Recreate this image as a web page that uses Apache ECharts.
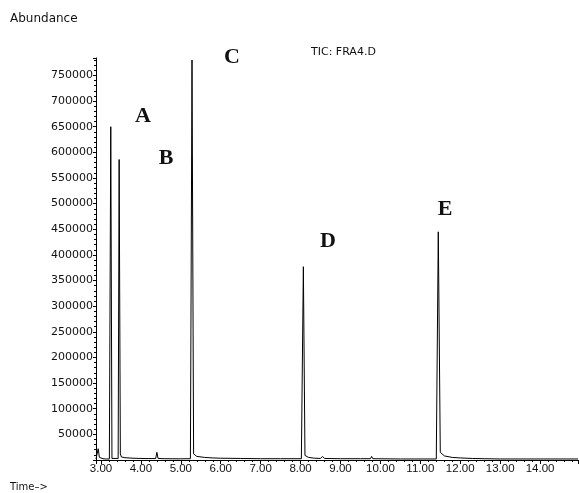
<!DOCTYPE html>
<html>
<head>
<meta charset="utf-8">
<script src="https://cdn.jsdelivr.net/npm/echarts@6/dist/echarts.min.js"></script>
<style>
html,body{margin:0;padding:0;background:#fff;}
#chart{width:579px;height:493px;}
</style>
</head>
<body>
<div id="chart"></div>
<script>
// Retention time (min)
const times = [
  2.875, 2.90, 2.93, 2.96, 3.00, 3.05, 3.12, 3.21, 3.245, 3.275, 3.30, 3.43, 3.455, 3.485,
  3.51, 3.60, 3.80, 4.00, 4.20, 4.37, 4.40, 4.43, 4.60, 5.00, 5.24, 5.28, 5.32, 5.40,
  5.60, 5.80, 6.00, 6.50, 7.00, 7.50, 8.02, 8.07, 8.11, 8.20, 8.35, 8.50, 8.55, 8.60,
  9.00, 9.50, 9.75, 9.78, 9.81, 10.50, 11.40, 11.45, 11.50, 11.60, 11.80, 12.00, 12.30,
  12.60, 13.00, 14.00, 14.95
];
// TIC abundance
const abundance = [
  2000, 3000, 22000, 5000, 3000, 2500, 2000, 2000, 650000, 3000, 3000, 3000, 586000, 12000,
  6000, 4500, 3500, 3000, 2800, 2800, 15000, 3000, 2500, 2300, 2500, 780000, 12000, 7000,
  5000, 4000, 3500, 3000, 2500, 2500, 2500, 377000, 9000, 5000, 3500, 3000, 7000, 3000,
  2500, 2500, 2500, 7000, 2500, 2000, 2000, 445000, 15000, 8000, 5000, 4000, 3000,
  2500, 2000, 2000, 2000
];
// Peak annotations
const peakLabels = ['A', 'B', 'C', 'D', 'E'];
const yTicks = [50000, 100000, 150000, 200000, 250000, 300000, 350000, 400000, 450000, 500000, 550000, 600000, 650000, 700000, 750000];
const xTicks = [3, 4, 5, 6, 7, 8, 9, 10, 11, 12, 13, 14];

const data = times.map((t, i) => [t, abundance[i]]);

const chart = echarts.init(document.getElementById('chart'), null, {renderer: 'canvas'});

const labelPos = [[143, 116], [166, 158], [232, 57], [328, 241], [445, 209]];

chart.setOption({
  animation: false,
  backgroundColor: '#fff',
  grid: {left: 96, right: 1, top: 58, bottom: 33, containLabel: false},
  xAxis: {
    type: 'value',
    min: 2.875,
    max: 14.95,
    splitNumber: 12,
    axisLine: {show: true, onZero: false, lineStyle: {color: '#000', width: 1}},
    axisTick: {show: true, length: 4, lineStyle: {color: '#000'}},
    minorTick: {show: true, splitNumber: 5, length: 2, lineStyle: {color: '#000'}},
    splitLine: {show: false},
    axisLabel: {
      color: '#111', fontFamily: 'Liberation Sans', fontSize: 11.5, margin: 3,
      showMinLabel: false, showMaxLabel: false,
      formatter: v => xTicks.includes(Math.round(v * 1000) / 1000) ? v.toFixed(2) : ''
    }
  },
  yAxis: {
    type: 'value',
    min: 0,
    max: 784000,
    interval: 50000,
    axisLine: {show: true, onZero: false, lineStyle: {color: '#000', width: 1}},
    axisTick: {show: true, length: 3, lineStyle: {color: '#000'}},
    minorTick: {show: true, splitNumber: 5, length: 2, lineStyle: {color: '#000'}},
    splitLine: {show: false},
    axisLabel: {
      color: '#111', fontFamily: 'DejaVu Sans', fontSize: 11, margin: 3,
      showMaxLabel: false,
      formatter: v => yTicks.includes(v) ? String(v) : ''
    }
  },
  series: [{
    type: 'line',
    data: data,
    showSymbol: false,
    symbol: 'none',
    lineStyle: {color: '#000', width: 1},
    clip: true
  }],
  graphic: [
    {type: 'text', left: 10, top: 13, style: {text: 'Abundance', font: '12px "DejaVu Sans"', fill: '#111'}},
    {type: 'text', left: 10, top: 482, style: {text: 'Time\u2013>', font: '10px "DejaVu Sans"', fill: '#111'}},
    {type: 'text', left: 311, top: 47, style: {text: 'TIC: FRA4.D', font: '11px "DejaVu Sans"', fill: '#111'}}
  ].concat(peakLabels.map((s, i) => ({
    type: 'text', x: labelPos[i][0], y: labelPos[i][1],
    style: {text: s, font: 'bold 22px "Liberation Serif"', fill: '#111', align: 'center', verticalAlign: 'middle'}
  })))
});
</script>
</body>
</html>
